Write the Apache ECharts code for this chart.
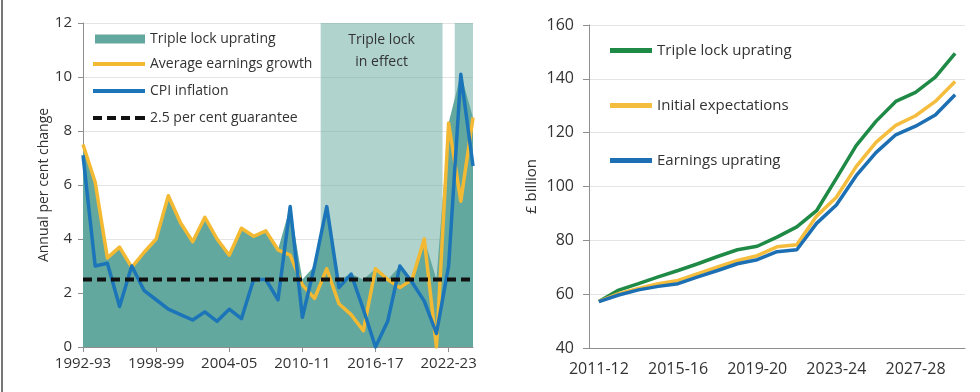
<!DOCTYPE html>
<html>
<head>
<meta charset="utf-8">
<script src="https://cdn.jsdelivr.net/npm/echarts@6/dist/echarts.min.js"></script>
<style>html,body{margin:0;padding:0;background:#fff;}#c{width:980px;height:392px;}</style>
</head>
<body>
<div id="c"></div>
<script>
// ---------- Left chart data ----------
const leftYears = ['1992-93','1993-94','1994-95','1995-96','1996-97','1997-98','1998-99','1999-00','2000-01','2001-02','2002-03','2003-04','2004-05','2005-06','2006-07','2007-08','2008-09','2009-10','2010-11','2011-12','2012-13','2013-14','2014-15','2015-16','2016-17','2017-18','2018-19','2019-20','2020-21','2021-22','2022-23','2023-24','2024-25'];
const tripleLockUprating = [7.5,6.1,3.3,3.7,3.0,3.5,4.0,5.6,4.6,3.9,4.8,4.0,3.4,4.4,4.1,4.3,3.6,5.2,2.5,3.0,5.2,2.5,2.7,2.5,2.9,2.5,3.0,2.5,4.0,2.5,8.3,10.1,8.5];
const earningsGrowth = [7.5,6.1,3.3,3.7,2.95,3.5,4.0,5.6,4.6,3.9,4.8,4.0,3.4,4.4,4.1,4.3,3.6,3.4,2.3,1.8,2.9,1.6,1.2,0.6,2.9,2.5,2.2,2.5,4.0,0.0,8.3,5.4,8.5];
const cpiInflation = [7.1,3.0,3.1,1.5,3.0,2.1,1.75,1.4,1.2,1.0,1.3,0.95,1.4,1.05,2.5,2.5,1.75,5.2,1.1,3.0,5.2,2.2,2.7,1.4,0.0,0.95,3.0,2.4,1.7,0.5,3.0,10.1,6.7];
const guaranteeRate = 2.5;
// triple lock in effect periods (in category index units on the left axis)
const tripleLockPeriods = [[19.5, 29.5], [30.5, 32]];
const leftYTicks = [0, 2, 4, 6, 8, 10, 12];

// ---------- Right chart data ----------
const rightYears = ['2011-12','2012-13','2013-14','2014-15','2015-16','2016-17','2017-18','2018-19','2019-20','2020-21','2021-22','2022-23','2023-24','2024-25','2025-26','2026-27','2027-28','2028-29','2029-30'];
const tripleLockSpend = [57.3,61.5,63.9,66.4,68.8,71.3,74.0,76.5,77.8,81.2,85.0,91.0,103.0,115.2,124.2,131.6,135.0,140.6,149.5];
const initialExpectations = [57.3,60.2,62.1,63.9,65.1,67.6,70.1,72.5,74.3,77.6,78.4,89.0,96.0,107.4,116.4,122.7,126.3,131.6,139.0];
const earningsUprating = [57.2,59.7,61.6,62.9,63.9,66.4,68.8,71.3,72.8,75.8,76.5,86.3,93.1,104.0,112.6,119.2,122.4,126.6,134.1];
const rightYTicks = [40, 60, 80, 100, 120, 140, 160];

const FONT = 'Open Sans';
const TXT = '#333333';
const AXIS = '#8f8f8f';
const GRIDC = '#e4e4e4';
const TEAL = '#62a89e';
const YELLOW = '#f3b932';
const BLUE = '#1b75b8';
const GREEN = '#1f8a45';
const YELLOW2 = '#f4bd3d';
const BLUE2 = '#1c6fb2';

const rightLabels = { tl2: 'Triple lock uprating', ie: 'Initial expectations', eu: 'Earnings uprating' };

const chart = echarts.init(document.getElementById('c'), null, { renderer: 'canvas' });

const option = {
  animation: false,
  backgroundColor: '#ffffff',
  textStyle: { fontFamily: FONT, color: TXT },
  graphic: [
    { type: 'line', shape: { x1: 2, y1: 0, x2: 2, y2: 392 }, style: { stroke: '#4a4a4a', lineWidth: 1.5 } }
  ],
  grid: [
    { left: 83, top: 23, width: 390, height: 324 },
    { left: 589, top: 25, width: 376, height: 323 }
  ],
  xAxis: [
    {
      type: 'category', gridIndex: 0, data: leftYears, boundaryGap: false,
      axisLine: { lineStyle: { color: AXIS, width: 1 } },
      axisTick: { interval: 5, length: 5, lineStyle: { color: AXIS } },
      axisLabel: { interval: 5, margin: 9, fontSize: 15, color: TXT, fontFamily: FONT },
      splitLine: { show: false }
    },
    {
      type: 'value', gridIndex: 0, min: 0, max: leftYears.length - 1, show: false
    },
    {
      type: 'category', gridIndex: 1, data: rightYears, boundaryGap: true,
      axisLine: { lineStyle: { color: AXIS, width: 1 } },
      axisTick: { interval: 0, length: 6, lineStyle: { color: AXIS } },
      axisLabel: { interval: 3, margin: 13, fontSize: 16, color: TXT, fontFamily: FONT },
      splitLine: { show: false }
    }
  ],
  yAxis: [
    {
      type: 'value', gridIndex: 0, min: leftYTicks[0], max: leftYTicks[leftYTicks.length - 1], interval: 2,
      name: 'Annual per cent change', nameLocation: 'middle', nameGap: 29,
      nameTextStyle: { fontSize: 14, color: TXT, fontFamily: FONT },
      axisLine: { show: true, lineStyle: { color: AXIS } },
      axisTick: { show: true, length: 5, lineStyle: { color: AXIS } },
      axisLabel: { margin: 11, fontSize: 15, color: TXT, fontFamily: FONT },
      splitLine: { show: true, lineStyle: { color: GRIDC, width: 1 } }
    },
    {
      type: 'value', gridIndex: 1, min: rightYTicks[0], max: rightYTicks[rightYTicks.length - 1], interval: 20,
      name: '£ billion', nameLocation: 'middle', nameGap: 50,
      nameTextStyle: { fontSize: 15, color: TXT, fontFamily: FONT },
      axisLine: { show: true, lineStyle: { color: AXIS } },
      axisTick: { show: true, length: 6, lineStyle: { color: AXIS } },
      axisLabel: { margin: 15, fontSize: 16, color: TXT, fontFamily: FONT },
      splitLine: { show: true, lineStyle: { color: GRIDC, width: 1 } }
    }
  ],
  legend: [
    {
      left: 90, top: 27, orient: 'vertical', itemWidth: 50, itemHeight: 9, icon: 'rect',
      data: ['Triple lock uprating'],
      textStyle: { fontSize: 14, color: TXT, fontFamily: FONT }, selectedMode: false
    },
    {
      left: 88, top: 52, orient: 'vertical', itemWidth: 52, itemHeight: 4, itemGap: 13,
      data: [
        { name: 'Average earnings growth', icon: 'rect' },
        { name: 'CPI inflation', icon: 'rect' },
        { name: '2.5 per cent guarantee', icon: 'path://M0,0h9v4h-9z M14,0h9v4h-9z M28,0h9v4h-9z M42,0h10v4h-10z' }
      ],
      textStyle: { fontSize: 14, color: TXT, fontFamily: FONT }, selectedMode: false
    },
    {
      left: 605, top: 38, orient: 'vertical', itemWidth: 42, itemHeight: 5, itemGap: 40, icon: 'rect',
      data: ['tl2', 'ie', 'eu'],
      formatter: function (n) { return rightLabels[n]; },
      textStyle: { fontSize: 15, color: TXT, fontFamily: FONT }, selectedMode: false
    }
  ],
  series: [
    {
      name: 'markAreaHolder', type: 'line', xAxisIndex: 1, yAxisIndex: 0, data: [], silent: true,
      markArea: {
        silent: true,
        itemStyle: { color: 'rgba(98,168,158,0.5)' },
        label: { show: false },
        data: tripleLockPeriods.map(function (p, k) {
          return [
            { xAxis: p[0], label: k === 0 ? { show: true, position: 'insideTop', distance: 6, formatter: 'Triple lock\nin effect', fontSize: 14, lineHeight: 22, color: TXT, fontFamily: FONT } : { show: false } },
            { xAxis: p[1] }
          ];
        })
      }
    },
    {
      name: 'Triple lock uprating', type: 'line', xAxisIndex: 0, yAxisIndex: 0,
      data: tripleLockUprating, symbol: 'none', color: TEAL,
      lineStyle: { width: 0, color: TEAL }, areaStyle: { color: TEAL, opacity: 1 }, z: 2
    },
    {
      name: 'Average earnings growth', type: 'line', xAxisIndex: 0, yAxisIndex: 0,
      data: earningsGrowth, symbol: 'none', color: YELLOW,
      lineStyle: { width: 3.5, color: YELLOW, join: 'round' }, z: 3
    },
    {
      name: 'CPI inflation', type: 'line', xAxisIndex: 0, yAxisIndex: 0,
      data: cpiInflation, symbol: 'none', color: BLUE,
      lineStyle: { width: 3.5, color: BLUE, join: 'round' }, z: 4
    },
    {
      name: '2.5 per cent guarantee', type: 'line', xAxisIndex: 0, yAxisIndex: 0,
      data: leftYears.map(function () { return guaranteeRate; }), symbol: 'none', color: '#111111',
      lineStyle: { width: 4, color: '#111111', type: [9, 5] }, z: 5
    },
    {
      name: 'tl2', type: 'line', xAxisIndex: 2, yAxisIndex: 1,
      data: tripleLockSpend, symbol: 'none', color: GREEN,
      lineStyle: { width: 3.5, color: GREEN }, z: 3
    },
    {
      name: 'ie', type: 'line', xAxisIndex: 2, yAxisIndex: 1,
      data: initialExpectations, symbol: 'none', color: YELLOW2,
      lineStyle: { width: 3.5, color: YELLOW2 }, z: 3
    },
    {
      name: 'eu', type: 'line', xAxisIndex: 2, yAxisIndex: 1,
      data: earningsUprating, symbol: 'none', color: BLUE2,
      lineStyle: { width: 3.5, color: BLUE2 }, z: 4
    }
  ]
};
chart.setOption(option);
</script>
</body>
</html>
